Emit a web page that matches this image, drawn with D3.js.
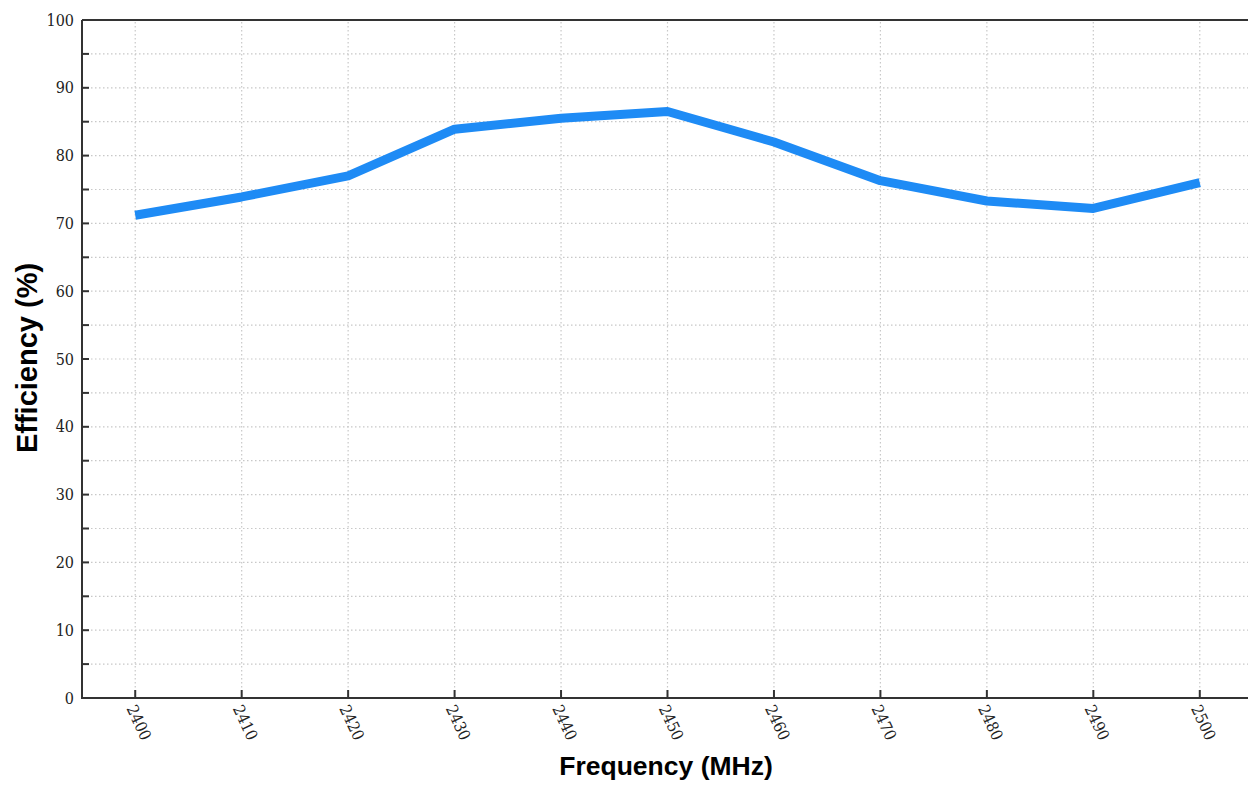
<!DOCTYPE html>
<html lang="en">
<head>
  <meta charset="UTF-8">
  <title>Efficiency vs Frequency</title>
  <style>
    body { margin: 0; background: #fff; }
    svg { display: block; }
    .tick-label { font-family: "DejaVu Serif Condensed", "Liberation Serif", serif; font-stretch: condensed; font-size: 16px; fill: #222; }
    .axis-title { font-family: "Liberation Sans", Arial, sans-serif; font-weight: bold; fill: #000; }
  </style>
  <script src="https://d3js.org/d3.v7.min.js"></script>
</head>
<body>
  <svg width="1248" height="785"></svg>
  <script>
    // data
    const frequency = [2400, 2410, 2420, 2430, 2440, 2450, 2460, 2470, 2480, 2490, 2500];
    const efficiency = [71.2, 73.9, 77.0, 83.9, 85.5, 86.5, 82.0, 76.3, 73.3, 72.2, 76.0];
    const yMajor = [0, 10, 20, 30, 40, 50, 60, 70, 80, 90, 100];
    const yMinor = [5, 15, 25, 35, 45, 55, 65, 75, 85, 95];

    const svg = d3.select("svg");
    const mLeft = 82, mTop = 20, mBottom = 698, mRight = 1253;

    const x = d3.scaleLinear().domain([2395, 2505]).range([mLeft, mRight]);
    const y = d3.scaleLinear().domain([0, 100]).range([mBottom, mTop]);
    const yInner = yMajor.concat(yMinor).filter(d => d > 0 && d < 100);

    // grid
    const grid = svg.append("g").attr("stroke", "#c8c8c8").attr("stroke-width", 1.2)
      .attr("stroke-dasharray", "1.5,2.5");
    grid.selectAll(".gy").data(yInner).enter()
      .append("line")
      .attr("x1", mLeft + 1).attr("x2", mRight)
      .attr("y1", d => y(d)).attr("y2", d => y(d));
    grid.selectAll(".gx").data(frequency).enter()
      .append("line")
      .attr("x1", d => x(d)).attr("x2", d => x(d))
      .attr("y1", mTop + 2).attr("y2", mBottom);

    // frame
    const frame = svg.append("g").attr("stroke", "#333").attr("stroke-width", 2);
    frame.append("line").attr("x1", mLeft).attr("x2", mLeft).attr("y1", mTop).attr("y2", mBottom + 1);
    frame.append("line").attr("x1", mLeft).attr("x2", mRight).attr("y1", mBottom).attr("y2", mBottom);
    frame.append("line").attr("x1", mLeft).attr("x2", mRight).attr("y1", mTop).attr("y2", mTop);

    // ticks pointing inward
    const ticks = svg.append("g").attr("stroke", "#333").attr("stroke-width", 2);
    ticks.selectAll(".ty").data(yInner).enter()
      .append("line")
      .attr("x1", mLeft).attr("x2", mLeft + 7)
      .attr("y1", d => y(d)).attr("y2", d => y(d));
    ticks.selectAll(".tx").data(frequency).enter()
      .append("line")
      .attr("x1", d => x(d)).attr("x2", d => x(d))
      .attr("y1", mBottom).attr("y2", mBottom - 8);

    // y labels
    svg.selectAll(".ylab").data(yMajor).enter()
      .append("text").attr("class", "tick-label")
      .attr("x", mLeft - 8).attr("y", d => y(d))
      .attr("dy", "0.35em").attr("text-anchor", "end")
      .text(d => d);

    // x labels rotated
    svg.selectAll(".xlab").data(frequency).enter()
      .append("text").attr("class", "tick-label")
      .attr("transform", d => `translate(${x(d) - 4},${mBottom + 8}) rotate(65)`)
      .attr("dy", "0.35em").attr("text-anchor", "start")
      .text(d => d);

    // line
    svg.append("path")
      .datum(frequency.map((f, i) => [f, efficiency[i]]))
      .attr("fill", "none")
      .attr("stroke", "#1e8bf5")
      .attr("stroke-width", 9)
      .attr("stroke-linejoin", "round")
      .attr("d", d3.line().x(d => x(d[0])).y(d => y(d[1])));

    // axis titles
    svg.append("text").attr("class", "axis-title")
      .attr("x", 666).attr("y", 775)
      .attr("text-anchor", "middle").attr("font-size", 26.5)
      .text("Frequency (MHz)");
    svg.append("text").attr("class", "axis-title")
      .attr("transform", "translate(37,358) rotate(-90)")
      .attr("text-anchor", "middle").attr("font-size", 29)
      .text("Efficiency (%)");
  </script>
</body>
</html>
